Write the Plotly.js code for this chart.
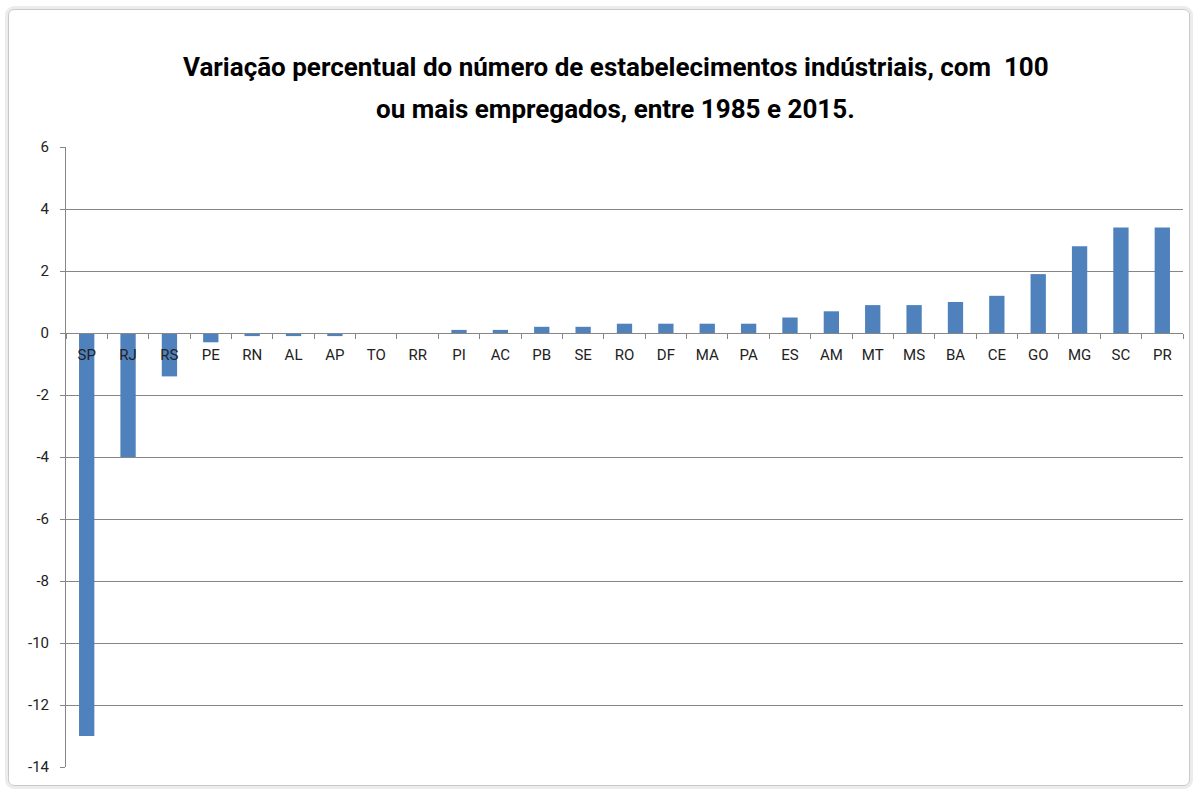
<!DOCTYPE html>
<html>
<head>
<meta charset="utf-8">
<script src="https://cdn.plot.ly/plotly-3.0.1.min.js"></script>
<style>
html,body{margin:0;padding:0;background:#ffffff;}
#frame{position:absolute;left:8px;top:9px;width:1180px;height:775px;border:1px solid #c9c9c9;border-radius:6px;box-shadow:0 0 0 3px #ececec;}
#chart{position:absolute;left:0;top:0;width:1199px;height:797px;}
</style>
</head>
<body>
<div id="frame"></div>
<div id="chart"></div>
<script>
var categories = ["SP","RJ","RS","PE","RN","AL","AP","TO","RR","PI","AC","PB","SE","RO","DF","MA","PA","ES","AM","MT","MS","BA","CE","GO","MG","SC","PR"];
var values = [-13,-4,-1.4,-0.3,-0.1,-0.1,-0.1,0,0,0.1,0.1,0.2,0.2,0.3,0.3,0.3,0.3,0.5,0.7,0.9,0.9,1.0,1.2,1.9,2.8,3.4,3.4];
var yTicks = [6,4,2,0,-2,-4,-6,-8,-10,-12,-14];
var titleLines = ['Variação percentual do número de estabelecimentos indústriais, com  100', 'ou mais empregados, entre 1985 e 2015.'];

var font = 'Roboto, "Open Sans", Arial, sans-serif';

var trace = {
  type: 'bar',
  x: categories,
  y: values,
  marker: {color: '#4F81BD'},
  hoverinfo: 'x+y'
};

var layout = {
  width: 1199,
  height: 797,
  paper_bgcolor: 'rgba(0,0,0,0)',
  plot_bgcolor: 'rgba(0,0,0,0)',
  margin: {l: 66, r: 16, t: 147, b: 30},
  bargap: 0.63,
  showlegend: false,
  annotations: [
    {text: '<b>' + titleLines[0] + '</b>', xref: 'paper', yref: 'paper', x: 0.492, y: 1, yshift: 80,
     xanchor: 'center', yanchor: 'middle', showarrow: false, font: {family: font, size: 26, color: '#000000'}},
    {text: '<b>' + titleLines[1] + '</b>', xref: 'paper', yref: 'paper', x: 0.492, y: 1, yshift: 38,
     xanchor: 'center', yanchor: 'middle', showarrow: false, font: {family: font, size: 26, color: '#000000'}}
  ],
  xaxis: {
    type: 'category',
    anchor: 'free',
    position: 0.7,
    showline: true,
    linecolor: '#868686',
    linewidth: 1,
    ticks: 'outside',
    tickson: 'boundaries',
    ticklen: 5,
    tickcolor: '#868686',
    showgrid: false,
    zeroline: false,
    ticklabelstandoff: 8,
    tickfont: {family: font, size: 15, color: '#222222'}
  },
  yaxis: {
    range: [-14, 6],
    tickvals: yTicks,
    ticktext: yTicks.map(String),
    showline: true,
    linecolor: '#868686',
    linewidth: 1,
    ticks: 'outside',
    ticklen: 5,
    tickcolor: '#868686',
    showgrid: true,
    gridcolor: '#868686',
    gridwidth: 1,
    zeroline: false,
    ticklabelstandoff: 8,
    tickfont: {family: font, size: 15, color: '#222222'}
  }
};

Plotly.newPlot('chart', [trace], layout, {displayModeBar: false});
</script>
</body>
</html>
